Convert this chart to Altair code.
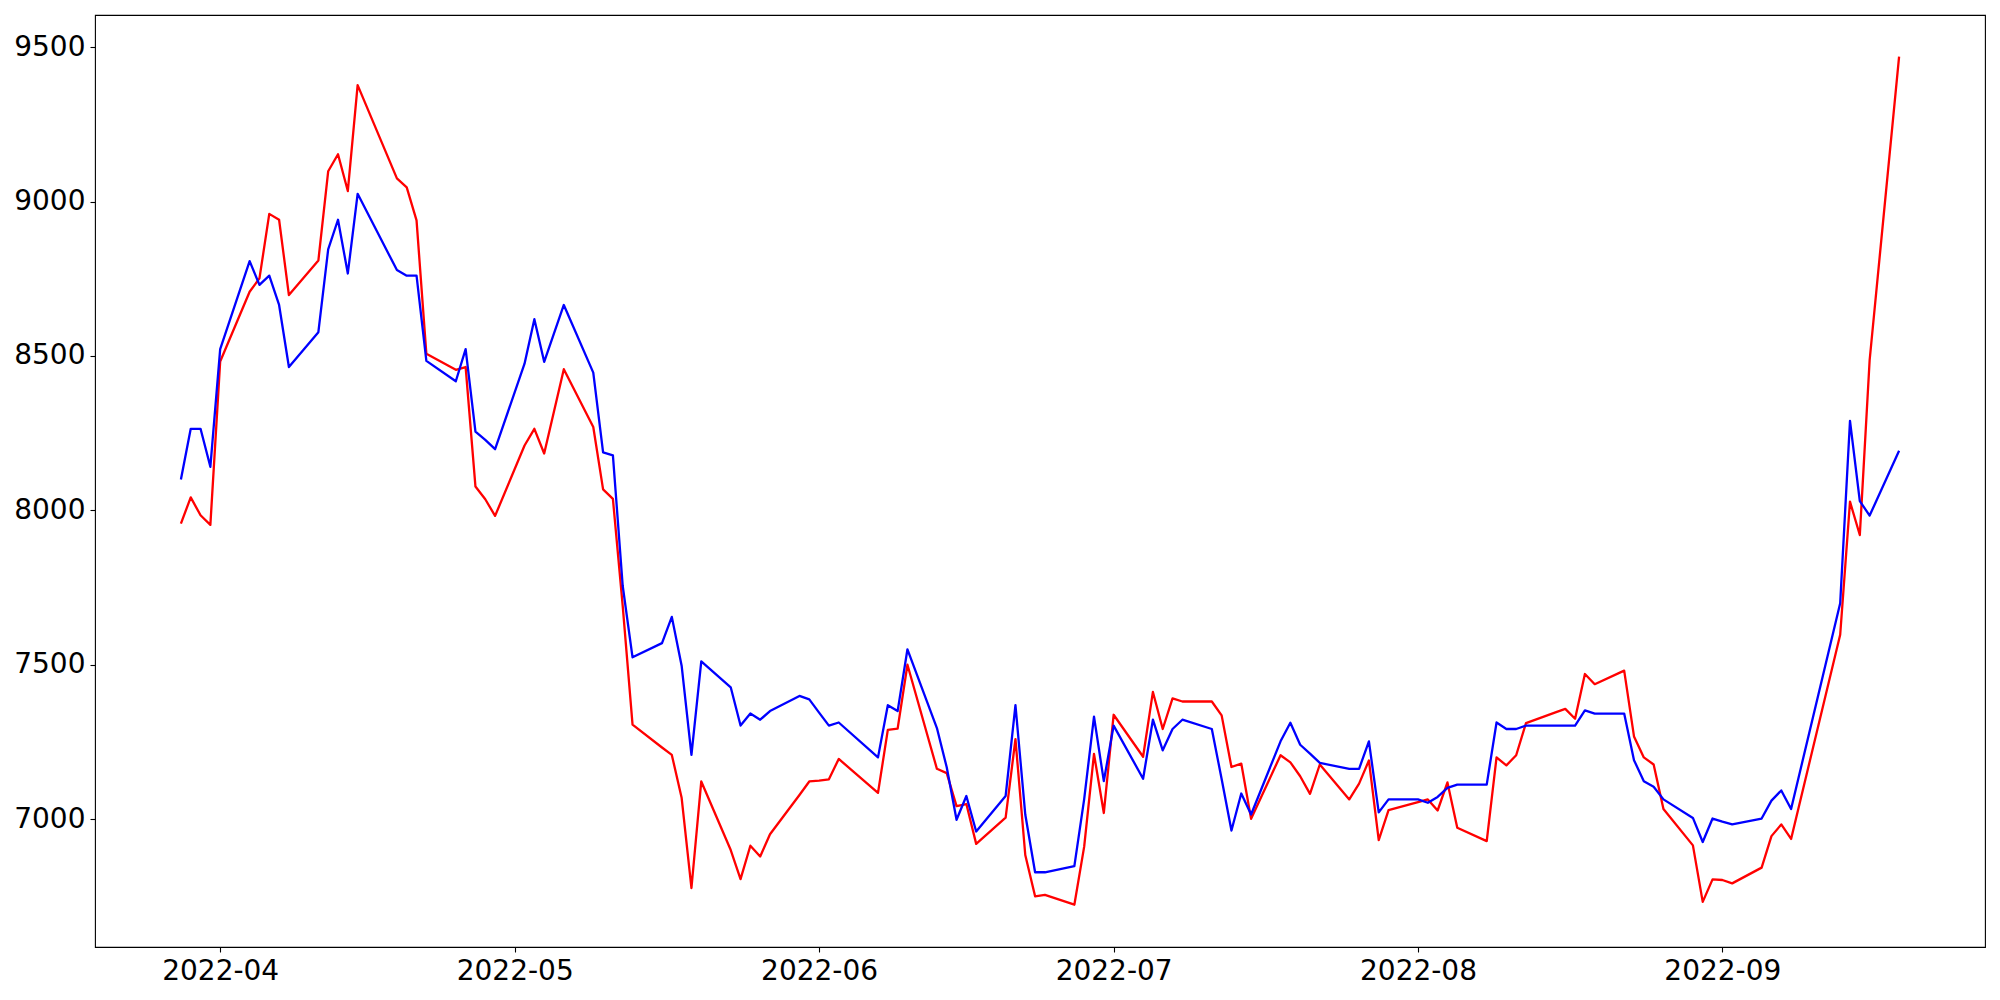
import altair as alt
import pandas as pd

dates = [
    "2022-03-28", "2022-03-29", "2022-03-30", "2022-03-31", "2022-04-01",
    "2022-04-04", "2022-04-05", "2022-04-06", "2022-04-07", "2022-04-08",
    "2022-04-11", "2022-04-12", "2022-04-13", "2022-04-14", "2022-04-15",
    "2022-04-19", "2022-04-20", "2022-04-21", "2022-04-22",
    "2022-04-25", "2022-04-26", "2022-04-27", "2022-04-28", "2022-04-29",
    "2022-05-02", "2022-05-03", "2022-05-04", "2022-05-06",
    "2022-05-09", "2022-05-10", "2022-05-11", "2022-05-12", "2022-05-13",
    "2022-05-16", "2022-05-17", "2022-05-18", "2022-05-19", "2022-05-20",
    "2022-05-23", "2022-05-24", "2022-05-25", "2022-05-26", "2022-05-27",
    "2022-05-30", "2022-05-31", "2022-06-01", "2022-06-02", "2022-06-03",
    "2022-06-07", "2022-06-08", "2022-06-09", "2022-06-10",
    "2022-06-13", "2022-06-14", "2022-06-15", "2022-06-16", "2022-06-17",
    "2022-06-20", "2022-06-21", "2022-06-22", "2022-06-23", "2022-06-24",
    "2022-06-27", "2022-06-28", "2022-06-29", "2022-06-30", "2022-07-01",
    "2022-07-04", "2022-07-05", "2022-07-06", "2022-07-07", "2022-07-08",
    "2022-07-11", "2022-07-12", "2022-07-13", "2022-07-14", "2022-07-15",
    "2022-07-18", "2022-07-19", "2022-07-20", "2022-07-21", "2022-07-22",
    "2022-07-25", "2022-07-26", "2022-07-27", "2022-07-28", "2022-07-29",
    "2022-08-01", "2022-08-02", "2022-08-03", "2022-08-04", "2022-08-05",
    "2022-08-08", "2022-08-09", "2022-08-10", "2022-08-11", "2022-08-12",
    "2022-08-15", "2022-08-16", "2022-08-17", "2022-08-18", "2022-08-19",
    "2022-08-22", "2022-08-23", "2022-08-24", "2022-08-25", "2022-08-26",
    "2022-08-29", "2022-08-30", "2022-08-31", "2022-09-01", "2022-09-02",
    "2022-09-05", "2022-09-06", "2022-09-07", "2022-09-08",
    "2022-09-13", "2022-09-14", "2022-09-15", "2022-09-16",
    "2022-09-19",
]

red_values = [
    7957, 8042, 7984, 7953, 8482,
    8708, 8751, 8960, 8941, 8697,
    8809, 9098, 9153, 9034, 9377,
    9075, 9046, 8939, 8507,
    8455, 8464, 8077, 8036, 7982,
    8210, 8264, 8184, 8457,
    8270, 8068, 8037, 7690, 7306,
    7232, 7208, 7069, 6777, 7122,
    6900, 6806, 6914, 6879, 6951,
    7078, 7122, 7125, 7129, 7195,
    7085, 7289, 7293, 7500,
    7163, 7149, 7042, 7049, 6920,
    7005, 7259, 6884, 6750, 6755,
    6723, 6911, 7211, 7020, 7338,
    7202, 7412, 7292, 7391, 7381,
    7381, 7336, 7169, 7180, 7001,
    7207, 7184, 7139, 7082, 7177,
    7064, 7115, 7190, 6932, 7029,
    7055, 7064, 7028, 7119, 6972,
    6929, 7200, 7174, 7207, 7311,
    7346, 7357, 7325, 7470, 7437,
    7481, 7268, 7200, 7177, 7033,
    6915, 6732, 6805, 6803, 6792,
    6843, 6945, 6983, 6936,
    7597, 8028, 7920, 8486,
    9469,
]

blue_values = [
    8100, 8264, 8264, 8141, 8522,
    8807, 8730, 8760, 8665, 8464,
    8577, 8845, 8941, 8767, 9025,
    8778, 8760, 8760, 8484,
    8418, 8522, 8255, 8228, 8198,
    8475, 8619, 8481, 8665,
    8446, 8188, 8178, 7755, 7524,
    7570, 7655, 7497, 7208, 7511,
    7427, 7303, 7342, 7322, 7350,
    7399, 7388, 7345, 7303, 7313,
    7200, 7369, 7350, 7550,
    7295, 7168, 6998, 7075, 6960,
    7075, 7369, 7015, 6828, 6828,
    6848, 7065, 7332, 7123, 7303,
    7131, 7322, 7223, 7292, 7322,
    7292, 7130, 6963, 7083, 7015,
    7252, 7312, 7241, 7212, 7182,
    7163, 7163, 7252, 7022, 7064,
    7064, 7053, 7072, 7101, 7112,
    7112, 7313, 7292, 7292, 7303,
    7303, 7303, 7303, 7352, 7342,
    7342, 7191, 7123, 7105, 7064,
    7004, 6926, 7002, 6992, 6983,
    7002, 7060, 7093, 7033,
    7699, 8290, 8030, 7983,
    8193,
]

series_names = ["red", "blue"]
series_colors = ["#ff0000", "#0000ff"]
y_ticks = [7000, 7500, 8000, 8500, 9000, 9500]
x_tick_months = [4, 5, 6, 7, 8, 9]

rows = []
for i, d in enumerate(dates):
    rows.append({"date": d + "T00:00:00", "value": red_values[i], "series": "red", "order": 0})
for i, d in enumerate(dates):
    rows.append({"date": d + "T00:00:00", "value": blue_values[i], "series": "blue", "order": 1})
df = pd.DataFrame(rows)

font = "DejaVu Sans"

chart = (
    alt.Chart(df)
    .mark_line(strokeWidth=2.3, strokeJoin="round")
    .encode(
        x=alt.X(
            "date:T",
            scale=alt.Scale(
                domain=[
                    alt.DateTime(year=2022, month=3, date=19, hours=6),
                    alt.DateTime(year=2022, month=9, date=27, hours=18),
                ],
                nice=False,
            ),
            axis=alt.Axis(
                values=[alt.DateTime(year=2022, month=m, date=1) for m in x_tick_months],
                format="%Y-%m",
                title=None,
                grid=False,
                domain=False,
                tickSize=5,
                tickWidth=1.1,
                tickColor="black",
                labelFont=font,
                labelFontSize=28,
                labelColor="black",
                labelPadding=5,
                labelFlush=False,
                labelOverlap=False,
            ),
        ),
        y=alt.Y(
            "value:Q",
            scale=alt.Scale(domain=[6586, 9604], nice=False, zero=False),
            axis=alt.Axis(
                values=y_ticks,
                format="d",
                title=None,
                grid=False,
                domain=False,
                tickSize=5,
                tickWidth=1.1,
                tickColor="black",
                labelFont=font,
                labelFontSize=28,
                labelColor="black",
                labelPadding=5,
                labelFlush=False,
                labelOverlap=False,
            ),
        ),
        color=alt.Color(
            "series:N",
            scale=alt.Scale(domain=series_names, range=series_colors),
            legend=None,
        ),
        order=alt.Order("order:Q"),
        detail="series:N",
    )
    .properties(
        width=1890,
        height=932,
        autosize=alt.AutoSizeParams(type="none"),
        padding={"left": 87, "top": 7, "right": 5, "bottom": 55},
        background="white",
    )
    .configure_view(stroke="black", strokeWidth=1.1)
)

chart.save("out.html", embed_options={"renderer": "svg", "actions": False})
